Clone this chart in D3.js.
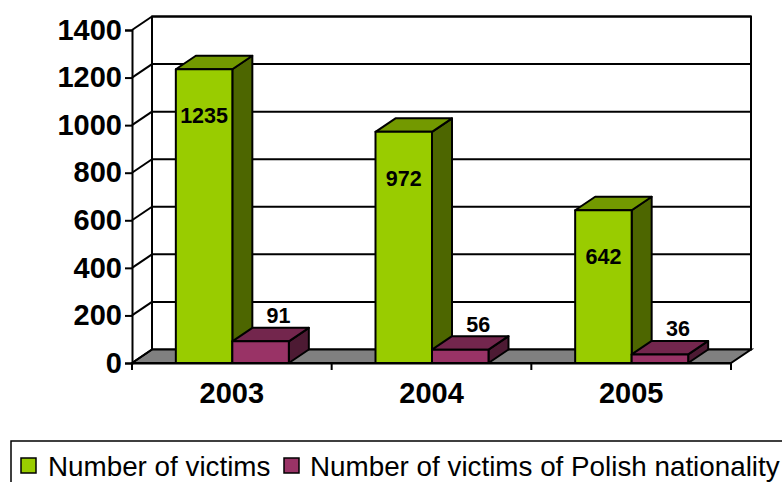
<!DOCTYPE html>
<html>
<head>
<meta charset="utf-8">
<script src="https://cdn.jsdelivr.net/npm/d3@7"></script>
<style>
  html, body { margin: 0; padding: 0; background: #fff; overflow: hidden; }
  svg { display: block; }
  text { font-family: "Liberation Sans", Arial, sans-serif; fill: #000; }
  .axis text { font-weight: bold; font-size: 29px; }
  .val { font-weight: bold; font-size: 21.5px; text-anchor: middle; dominant-baseline: central; }
  .legend-text { font-size: 27.8px; }
</style>
</head>
<body>
<div id="chart"></div>
<script>
const years = ["2003", "2004", "2005"];
const victims = [1235, 972, 642];
const polish = [91, 56, 36];
const yTicks = [0, 200, 400, 600, 800, 1000, 1200, 1400];
const legendLabels = ["Number of victims", "Number of victims of Polish nationality"];

const width = 782, height = 482;
const plotLeft = 132, plotRight = 731, plotTop = 30, plotBottom = 363;
const depthX = 20, depthY = 13.5; // wall depth
const barDepthX = 20, barDepthY = 13.5;

const svg = d3.select("#chart").append("svg").attr("width", width).attr("height", height);

const x = d3.scaleBand().domain(years).range([plotLeft, plotRight]);
const y = d3.scaleLinear().domain([0, 1400]).range([plotBottom, plotTop]);
const barW = 56.5;
const barStart = (x.step() - 2 * barW) / 2 + 0.5;

// back wall
svg.append("rect")
  .attr("x", plotLeft + depthX).attr("y", plotTop - depthY)
  .attr("width", plotRight - plotLeft).attr("height", plotBottom - plotTop)
  .attr("fill", "#fff").attr("stroke", "#000").attr("stroke-width", 2);

// floor
svg.append("polygon")
  .attr("points", [[plotLeft, plotBottom], [plotLeft + depthX, plotBottom - depthY], [plotRight + depthX, plotBottom - depthY], [plotRight, plotBottom]].join(" "))
  .attr("fill", "#808080").attr("stroke", "#000").attr("stroke-width", 2);

// gridlines, back wall + side wall
yTicks.forEach(t => {
  const yy = y(t);
  if (t > 0) {
    svg.append("line").attr("x1", plotLeft + depthX).attr("x2", plotRight + depthX)
      .attr("y1", yy - depthY).attr("y2", yy - depthY)
      .attr("stroke", "#000").attr("stroke-width", 2);
  }
  svg.append("line").attr("x1", plotLeft).attr("x2", plotLeft + depthX)
    .attr("y1", yy).attr("y2", yy - depthY)
    .attr("stroke", "#000").attr("stroke-width", 2);
});

function drawBar(xPos, value, front, topC, side) {
  const yy = y(value);
  const g = svg.append("g").attr("stroke", "#000").attr("stroke-width", 2).attr("stroke-linejoin", "round");
  g.append("polygon")
    .attr("points", [[xPos + barW, yy], [xPos + barW + barDepthX, yy - barDepthY], [xPos + barW + barDepthX, plotBottom - barDepthY], [xPos + barW, plotBottom]].join(" "))
    .attr("fill", side);
  g.append("polygon")
    .attr("points", [[xPos, yy], [xPos + barDepthX, yy - barDepthY], [xPos + barW + barDepthX, yy - barDepthY], [xPos + barW, yy]].join(" "))
    .attr("fill", topC);
  g.append("rect").attr("x", xPos).attr("y", yy).attr("width", barW).attr("height", plotBottom - yy).attr("fill", front);
}

years.forEach((yr, i) => {
  const x0 = x(yr) + barStart;
  drawBar(x0, victims[i], "#99cc00", "#739900", "#4d6600");
  drawBar(x0 + barW, polish[i], "#993366", "#73264d", "#4d1a33");
});

// value labels
years.forEach((yr, i) => {
  const x0 = x(yr) + barStart;
  svg.append("text").attr("class", "val").attr("x", x0 + barW / 2).attr("y", y(victims[i]) + 47).text(victims[i]);
  svg.append("text").attr("class", "val").attr("x", x0 + barW + barW / 2 + 18).attr("y", y(polish[i]) - 25).text(polish[i]);
});

// axes
const yAxis = svg.append("g").attr("class", "axis").attr("transform", `translate(${plotLeft},0)`)
  .call(d3.axisLeft(y).tickValues(yTicks).tickSize(7).tickPadding(3).tickFormat(d3.format("d")));
const xAxis = svg.append("g").attr("class", "axis").attr("transform", `translate(0,${plotBottom})`)
  .call(d3.axisBottom(x).tickSize(0).tickPadding(19));
[yAxis, xAxis].forEach(a => {
  a.selectAll("path.domain").attr("stroke", "#000").attr("stroke-width", 2);
  a.selectAll(".tick line").attr("stroke", "#000").attr("stroke-width", 2);
  a.attr("font-family", null).attr("font-size", null);
});
// category ticks sit on band edges
years.concat(null).forEach((yr, i) => {
  const px = plotLeft + i * x.step();
  svg.append("line").attr("x1", px).attr("x2", px).attr("y1", plotBottom).attr("y2", plotBottom + 7)
    .attr("stroke", "#000").attr("stroke-width", 2);
});

// legend (runs off the right edge of the picture)
svg.append("rect").attr("x", 11).attr("y", 441).attr("width", 790).attr("height", 60)
  .attr("fill", "#fff").attr("stroke", "#000").attr("stroke-width", 1.5);
const legendColors = ["#99cc00", "#993366"];
const swatchX = [21, 284], textX = [48, 310];
legendLabels.forEach((s, i) => {
  svg.append("rect").attr("x", swatchX[i]).attr("y", 458).attr("width", 15).attr("height", 15)
    .attr("fill", legendColors[i]).attr("stroke", "#000").attr("stroke-width", 1.5);
  svg.append("text").attr("class", "legend-text").attr("x", textX[i]).attr("y", 476).text(s);
});
</script>
</body>
</html>
